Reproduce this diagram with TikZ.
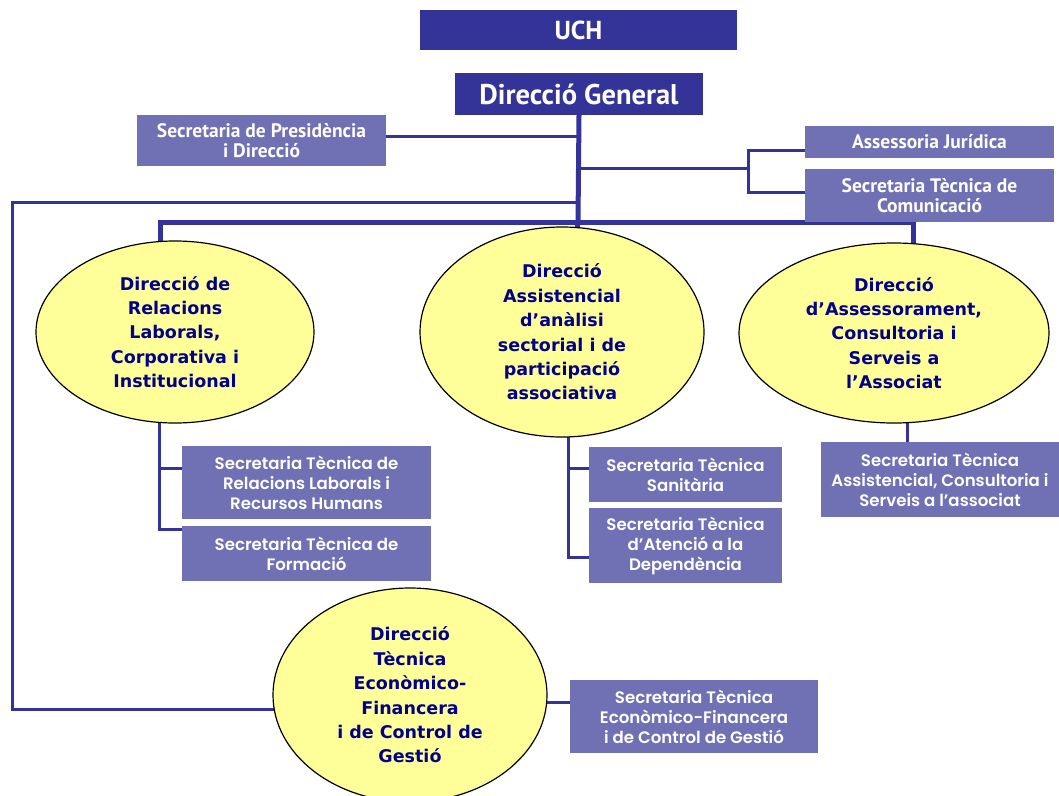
\documentclass[tikz,border=0pt]{standalone}
\usepackage{fontspec}
\usetikzlibrary{shapes.geometric,backgrounds}
\newfontfamily\hdrfont{PT Sans}
\newfontfamily\secfont{Poppins SemiBold}
\newfontfamily\dirfont{DejaVu Sans}
\definecolor{uchblue}{RGB}{52,52,152}
\definecolor{secblue}{RGB}{112,112,180}
\definecolor{dirfill}{RGB}{255,255,153}
\definecolor{dirtext}{RGB}{0,0,140}
\definecolor{linkblue}{RGB}{51,51,153}
\begin{document}
\begin{tikzpicture}[x=1pt,y=-1pt,
  hdr/.style={fill=uchblue,text=white,inner sep=0pt,align=center,font=\hdrfont\bfseries\fontsize{19.5}{20}\selectfont},
  sec/.style={fill=secblue,text=white,inner sep=0pt,align=center,font=\hdrfont\bfseries\fontsize{19.5}{20}\selectfont},
  subsec/.style={fill=secblue,text=white,inner sep=0pt,align=center,font=\secfont\fontsize{16.6}{20}\selectfont},
  dir/.style={ellipse,draw=black,line width=1.2pt,fill=dirfill,text=dirtext,inner sep=0pt,align=center,font=\dirfont\bfseries\fontsize{17.5}{24.4}\selectfont},
  link/.style={draw=linkblue,line width=3pt},
  bus/.style={draw=linkblue,line width=5pt}]

  \useasboundingbox (0,0) rectangle (1059,795);

  \node[hdr,minimum width=317,minimum height=40] (uch) at (578.5,30) {\fontsize{26}{28}\selectfont UCH};
  \node[hdr,minimum width=248,minimum height=42] (dg) at (579,94) {\fontsize{28.5}{30}\selectfont Direcció General};
  \node[sec,minimum width=249,minimum height=51] (sp) at (261.5,140.5) {Secretaria de Presidència\\i Direcció};
  \node[sec,minimum width=249,minimum height=32] (aj) at (929.5,142) {Assessoria Jurídica};
  \node[sec,minimum width=249,minimum height=53] (stc) at (929.5,195.5) {Secretaria Tècnica de\\Comunicació};

  \node[dir,minimum width=278,minimum height=182] (relac) at (175,332) {Direcció de\\Relacions\\Laborals,\\Corporativa i\\Institucional};
  \node[dir,minimum width=284,minimum height=210] (assist) at (562,332) {Direcció\\Assistencial\\d’anàlisi\\sectorial i de\\participació\\associativa};
  \node[dir,minimum width=310,minimum height=180] (assess) at (894,333) {Direcció\\d’Assessorament,\\Consultoria i\\Serveis a\\l’Associat};
  \node[dir,minimum width=274,minimum height=214] (econ) at (410,695) {Direcció\\Tècnica\\Econòmico-\\Financera\\i de Control de\\Gestió};

  \node[subsec,minimum width=249,minimum height=73] (rrhh) at (306.5,482.5) {Secretaria Tècnica de\\Relacions Laborals i\\Recursos Humans};
  \node[subsec,minimum width=249,minimum height=55] (form) at (306.5,553.5) {Secretaria Tècnica de\\Formació};
  \node[subsec,minimum width=193,minimum height=55] (san) at (685.5,474.5) {Secretaria Tècnica\\Sanitària};
  \node[subsec,minimum width=193,minimum height=75] (dep) at (685.5,545.5) {Secretaria Tècnica\\d’Atenció a la\\Dependència};
  \node[subsec,minimum width=238,minimum height=75] (serv) at (940,479.5) {Secretaria Tècnica\\Assistencial, Consultoria i\\Serveis a l’associat};
  \node[subsec,minimum width=248,minimum height=73] (ecofin) at (694,716.5) {Secretaria Tècnica\\Econòmico-Financera\\i de Control de Gestió};

  \coordinate (hub) at (578,222);
  \coordinate (busL) at (160,222);
  \coordinate (busR) at (913,222);
  \coordinate (rb) at (748,168);
  \coordinate (lp) at (12,202);
  \coordinate (lq) at (12,709);
  \coordinate (lsa) at (159,468);
  \coordinate (lsb) at (159,529);
  \coordinate (msa) at (568,468);
  \coordinate (msb) at (568,557);
  \coordinate (rs) at (907,442);
  \coordinate (es) at (570,702);

  \begin{scope}[on background layer]
  \draw[bus] (dg.south) -- (hub);
  \draw[bus] (relac.center -| busL) -- (busL) -- (busR) -- (assess.center -| busR);
  \draw[bus] (hub) -- (assist.center);
  \draw[link] ([yshift=4.5pt]sp.east) -- ([yshift=4.5pt]sp.east -| hub);
  \draw[link] (rb -| hub) -- (rb);
  \draw[link] ([yshift=-8pt]aj.west) -| (rb) |- ([yshift=3pt]stc.west);
  \draw[link] (lp -| hub) -- (lp) -- (lq) -- (lq -| econ.center);
  \draw[link] (relac.center -| lsa) -- (lsb) -- (lsb -| form.west);
  \draw[link] (lsa) -- (lsa -| rrhh.west);
  \draw[link] (assist.center -| msa) -- (msb) -- (msb -| dep.west);
  \draw[link] (msa) -- (msa -| san.west);
  \draw[link] (assess.center -| rs) -- (rs |- serv.north);
  \draw[link] (econ.center |- es) -- (es -| ecofin.west);
  \end{scope}

\end{tikzpicture}
\end{document}
